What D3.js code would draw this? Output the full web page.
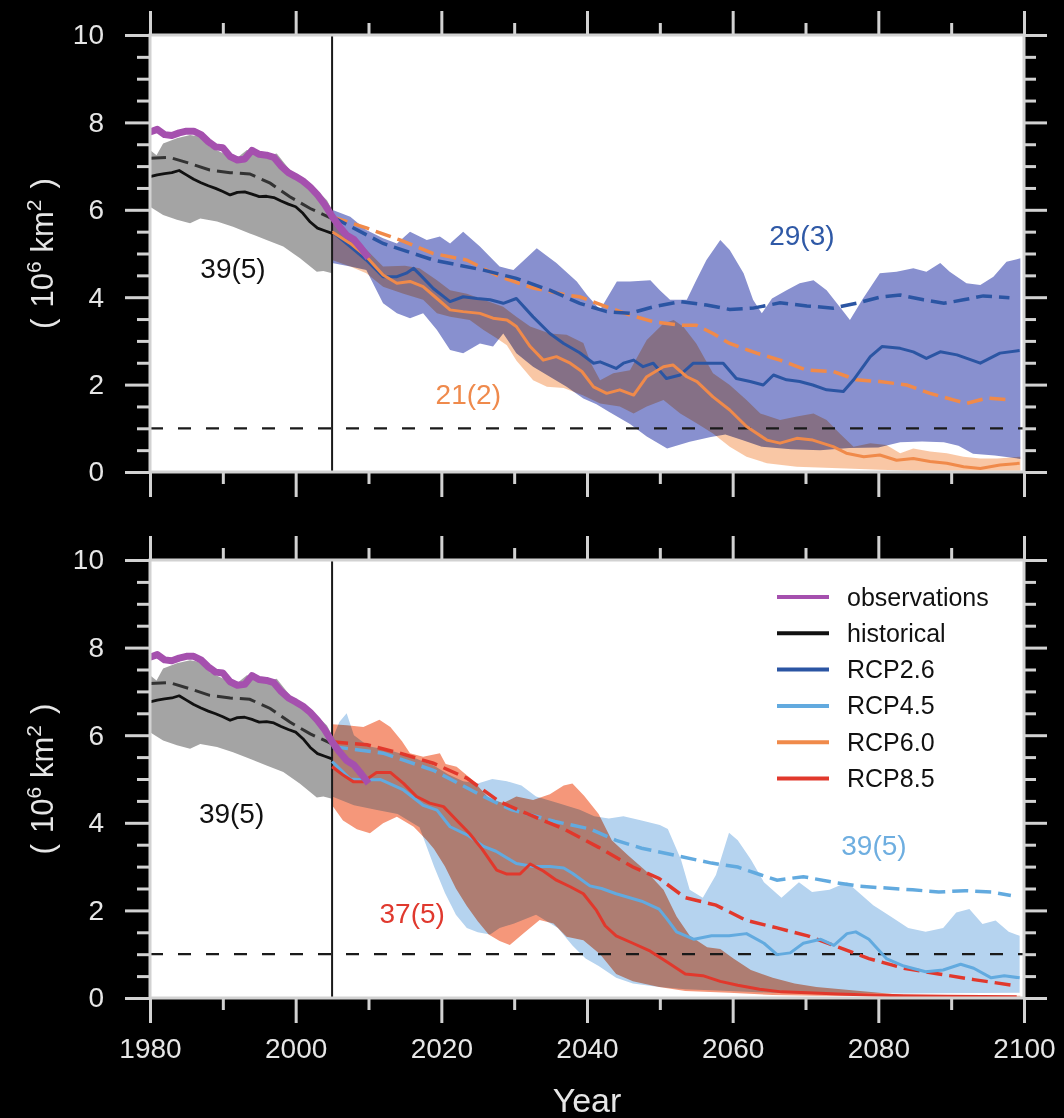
<!DOCTYPE html>
<html>
<head>
<meta charset="utf-8">
<script src="https://cdn.jsdelivr.net/npm/d3@7"></script>
<style>
  html, body { margin: 0; padding: 0; background: #000; }
  svg { display: block; }
</style>
</head>
<body>
<svg id="chart" width="1064" height="1118"></svg>
<script>
// ---- Data: September sea-ice extent (10^6 km^2) ----
const obsSeries = [[1980,7.78],[1981,7.84],[1982,7.72],[1983,7.70],[1984,7.76],[1985,7.80],[1986,7.80],[1987,7.72],[1988,7.56],[1989,7.44],[1990,7.42],[1991,7.22],[1992,7.14],[1993,7.16],[1994,7.36],[1995,7.27],[1996,7.25],[1997,7.20],[1998,7.00],[1999,6.85],[2000,6.76],[2001,6.66],[2002,6.52],[2003,6.34],[2004,6.12],[2005,5.85],[2006,5.62],[2007,5.42],[2008,5.32],[2009,5.12],[2010,4.90]];

const histMean = [[1980,6.76],[1981,6.80],[1982,6.83],[1983,6.85],[1984,6.90],[1985,6.80],[1986,6.70],[1987,6.62],[1988,6.55],[1989,6.49],[1990,6.42],[1991,6.34],[1992,6.40],[1993,6.41],[1994,6.36],[1995,6.30],[1996,6.31],[1997,6.28],[1998,6.20],[1999,6.13],[2000,6.07],[2001,5.92],[2002,5.72],[2003,5.58],[2004,5.52],[2005,5.46]];
const histAll = [[1980,7.18],[1982.7,7.20],[1985.5,7.06],[1988.2,6.91],[1991,6.85],[1993.7,6.82],[1996.5,6.61],[1999.2,6.30],[2002,6.03],[2005,5.80]];
const histUpper = [[1980,7.37],[1980.9,7.25],[1981.8,7.52],[1983.7,7.64],[1985.5,7.71],[1986.9,7.67],[1988.2,7.44],[1990.1,7.29],[1991.9,7.18],[1993.3,7.37],[1994.6,7.33],[1996.5,7.25],[1997.4,7.29],[1999.2,6.91],[2001.1,6.68],[2002.9,6.45],[2004.3,6.22],[2005,6.0]];
const histLower = [[1980,6.07],[1981.8,5.88],[1983.7,5.77],[1985.5,5.69],[1986.9,5.80],[1989.2,5.73],[1991.4,5.61],[1993.7,5.46],[1996,5.31],[1998.3,5.16],[2000.6,4.89],[2002.9,4.58],[2003.8,4.6],[2005,4.55]];

// RCP2.6
const rcp26Mean = [[2005,5.5],[2007.5,5.16],[2009.7,4.85],[2012,4.47],[2013.9,4.47],[2015.2,4.55],[2016.2,4.66],[2017.1,4.51],[2018.9,4.2],[2021.2,3.9],[2023,4.01],[2024.9,3.97],[2026.7,3.94],[2028.5,3.86],[2030.3,3.97],[2032.6,3.55],[2034.9,3.17],[2036.8,2.94],[2039,2.73],[2040.9,2.49],[2041.8,2.52],[2044,2.37],[2045,2.49],[2046.4,2.56],[2047.7,2.41],[2049.1,2.49],[2050.9,2.14],[2052.8,2.22],[2054.6,2.49],[2058.7,2.49],[2060.5,2.14],[2062.4,2.07],[2064.2,1.99],[2065.6,2.22],[2067.4,2.11],[2069.2,2.07],[2071,1.99],[2072.9,1.88],[2075.2,1.84],[2076.6,2.11],[2078.9,2.64],[2080.5,2.87],[2083,2.83],[2084.8,2.75],[2086.6,2.6],[2088.5,2.75],[2090.8,2.68],[2094,2.49],[2096.7,2.72],[2099.4,2.78]];
const rcp26All = [[2005,5.84],[2012,5.23],[2018.9,4.85],[2025.8,4.62],[2030.3,4.43],[2034.9,4.16],[2039,3.86],[2042.7,3.67],[2045.9,3.63],[2049.1,3.78],[2052.8,3.90],[2056.4,3.82],[2059.6,3.72],[2062.8,3.75],[2066.5,3.87],[2070.2,3.80],[2073.8,3.75],[2077,3.86],[2080.2,4.00],[2083,4.05],[2086.2,3.94],[2089,3.86],[2091.7,3.94],[2094.4,4.03],[2098,3.99]];
const rcp26Upper = [[2005,6.0],[2007.5,5.84],[2009.7,5.54],[2012,5.35],[2013.9,5.23],[2015.7,5.5],[2018,5.31],[2019.8,5.39],[2021.2,5.23],[2023,5.5],[2025.3,5.16],[2028,4.7],[2029.9,4.62],[2033.1,5.12],[2035.8,4.78],[2038.6,4.36],[2040,4.05],[2041.8,3.71],[2044.1,4.36],[2045.9,4.36],[2048.7,4.39],[2050,4.16],[2051.4,3.94],[2053.7,3.94],[2055,4.39],[2056.4,4.85],[2058.3,5.31],[2059.6,5.08],[2061.5,4.55],[2062.8,3.94],[2064,3.63],[2065.4,3.97],[2067.4,4.16],[2069.2,4.32],[2071.1,4.39],[2072.9,4.16],[2075.2,3.67],[2076.1,3.48],[2077.9,3.97],[2080.2,4.55],[2082.5,4.58],[2084.8,4.66],[2086.6,4.58],[2088.5,4.78],[2089.8,4.58],[2092.1,4.32],[2094,4.28],[2095.8,4.47],[2097.6,4.81],[2099.5,4.89]];
const rcp26Lower = [[2005,4.78],[2007.5,4.7],[2009.7,4.62],[2012,3.86],[2013.9,3.63],[2015.7,3.52],[2017.5,3.63],[2019.4,3.25],[2021.2,2.79],[2023,2.72],[2025.3,2.94],[2027.1,2.87],[2028.5,3.17],[2030.3,2.72],[2032.6,2.41],[2034.9,2.18],[2037.2,1.95],[2039.5,1.68],[2041.3,1.55],[2043,1.38],[2045.9,1.1],[2048.2,0.81],[2051,0.54],[2054.1,0.69],[2057,0.8],[2059,0.86],[2061.5,0.72],[2064,0.58],[2068,0.52],[2072,0.5],[2076,0.55],[2080,0.56],[2083,0.68],[2086,0.7],[2089,0.68],[2091,0.6],[2093,0.42],[2096,0.38],[2099.5,0.3]];

// RCP6.0
const rcp60Mean = [[2005,5.5],[2007.5,5.23],[2009.7,4.93],[2012,4.51],[2013.9,4.32],[2015.7,4.36],[2017.5,4.24],[2019.4,3.97],[2021.2,3.71],[2023,3.67],[2025.3,3.63],[2027.1,3.52],[2029,3.48],[2030.3,3.33],[2032.2,2.87],[2034,2.56],[2035.8,2.64],[2037.7,2.49],[2039.3,2.3],[2040.9,1.95],[2042.7,1.80],[2044.5,1.88],[2046.4,1.76],[2048.2,2.18],[2050.5,2.41],[2051.8,2.45],[2053.7,2.18],[2055.1,2.07],[2057.3,1.72],[2059.6,1.42],[2061.9,1.04],[2064.7,0.73],[2066.5,0.66],[2068.8,0.77],[2071,0.73],[2073.8,0.58],[2075.6,0.43],[2078,0.35],[2080.2,0.39],[2082.5,0.27],[2084.8,0.31],[2087.1,0.24],[2089.4,0.20],[2091.7,0.12],[2094,0.08],[2096.7,0.16],[2099.4,0.20]];
const rcp60All = [[2005,5.84],[2009.8,5.58],[2014.3,5.31],[2018.9,5.0],[2023.5,4.85],[2028,4.47],[2032.6,4.21],[2037.2,4.05],[2039,4.01],[2042.7,3.78],[2045.9,3.59],[2049.1,3.44],[2052.8,3.36],[2055,3.36],[2057.3,3.17],[2059.6,2.94],[2063.3,2.72],[2066.5,2.56],[2070.2,2.33],[2073.8,2.30],[2077,2.11],[2080.2,2.07],[2083.9,1.99],[2087.1,1.80],[2090.3,1.65],[2092.1,1.57],[2094.9,1.69],[2098,1.65]];
const rcp60Upper = [[2005,5.77],[2006.5,5.46],[2009.3,5.16],[2012,4.7],[2015,4.72],[2017,4.66],[2019.4,4.39],[2021.2,4.16],[2023.5,4.08],[2025.8,3.94],[2028.5,3.78],[2030.3,3.55],[2032.2,3.33],[2034.9,3.17],[2037.2,3.14],[2039.5,2.95],[2040.5,2.5],[2041.8,2.1],[2043.6,2.26],[2045.9,2.33],[2048.2,3.02],[2050.5,3.40],[2051.9,3.48],[2053.2,3.33],[2055,2.94],[2057.3,2.26],[2059.6,1.99],[2061.9,1.65],[2063.8,1.34],[2066.5,1.19],[2068.8,1.27],[2071.1,1.34],[2072.9,1.19],[2074.7,0.88],[2076.6,0.58],[2078.9,0.66],[2081.1,0.62],[2083,0.43],[2084.8,0.54],[2087.1,0.47],[2089.4,0.43],[2091.7,0.35],[2094,0.31],[2096.3,0.31],[2099.5,0.35]];
const rcp60Lower = [[2005,4.85],[2007.5,4.7],[2009.7,4.55],[2012,4.24],[2014.8,4.08],[2017.5,3.94],[2019.4,3.63],[2021.2,3.55],[2023.9,3.48],[2025.8,3.25],[2027.6,3.06],[2029,2.9],[2030.3,2.55],[2032.6,2.1],[2034.5,1.95],[2036.8,1.92],[2039.5,1.75],[2041.8,1.57],[2044.5,1.5],[2046.4,1.34],[2048.2,1.5],[2050.5,1.65],[2052.8,1.34],[2055.1,1.11],[2057.3,0.88],[2059.6,0.58],[2061.9,0.35],[2064.7,0.2],[2068.8,0.12],[2075.6,0.08],[2080.2,0.05],[2085,0.03],[2099.5,0.03]];

// RCP4.5
const rcp45Mean = [[2005,5.4],[2007.5,5.0],[2009.7,4.98],[2011.6,4.99],[2014.8,4.75],[2017.5,4.4],[2019.4,4.29],[2021.2,3.91],[2023.6,3.72],[2025.8,3.46],[2027.5,3.35],[2030.3,3.07],[2032.6,3.0],[2034.9,3.0],[2036.8,2.97],[2038,2.85],[2040.4,2.56],[2042,2.5],[2044,2.38],[2047.5,2.21],[2049.9,2.03],[2051,1.8],[2052.3,1.51],[2054.7,1.34],[2057.1,1.42],[2059.5,1.42],[2061.9,1.47],[2064.3,1.25],[2066.1,0.99],[2067.9,1.03],[2069.7,1.25],[2072.1,1.34],[2073.9,1.20],[2075.7,1.47],[2076.9,1.51],[2078.7,1.34],[2081.1,0.90],[2083.5,0.73],[2086.5,0.60],[2088.9,0.64],[2091.3,0.77],[2093.1,0.68],[2095.5,0.46],[2097.3,0.51],[2099.4,0.46]];
const rcp45All = [[2005,5.74],[2012,5.59],[2018.9,5.2],[2025.8,4.6],[2029.6,4.3],[2035.6,4.03],[2040.4,3.86],[2044,3.60],[2047.5,3.42],[2052.3,3.25],[2057.1,3.08],[2060.7,2.99],[2063.7,2.82],[2066.1,2.69],[2069.7,2.77],[2073.9,2.64],[2077.5,2.55],[2081.1,2.51],[2084.7,2.47],[2088.3,2.42],[2091.9,2.45],[2095.5,2.42],[2098.2,2.34]];
const rcp45Upper = [[2005,5.9],[2006,6.3],[2007,6.5],[2008,6.0],[2010,5.75],[2013,5.65],[2016,5.5],[2019,5.3],[2021,5.1],[2023,4.95],[2025,4.9],[2027,5.0],[2029,4.95],[2031,4.85],[2033,4.6],[2036,4.45],[2039,4.3],[2041,4.15],[2043,4.1],[2045,4.15],[2047.5,4.05],[2050,3.95],[2051.1,3.86],[2052.9,3.16],[2054.1,2.47],[2055.9,2.29],[2057.7,2.81],[2059.5,3.77],[2060.7,3.6],[2062.5,3.16],[2064.3,2.64],[2066.7,2.29],[2069.1,2.64],[2070.9,2.42],[2073.3,2.47],[2075.7,2.64],[2077.5,2.38],[2079.3,2.12],[2081.7,1.86],[2084.1,1.6],[2086.5,1.51],[2088.9,1.6],[2090.7,1.95],[2092.5,2.03],[2094.3,1.69],[2096.1,1.77],[2097.9,1.51],[2099.4,1.42]];
const rcp45Lower = [[2005,4.6],[2008,4.4],[2011,4.3],[2014,4.2],[2017,3.9],[2019,3.0],[2020.5,2.4],[2022,1.9],[2023.5,1.6],[2025,1.5],[2026.7,1.45],[2028,1.6],[2030,1.7],[2033,1.9],[2036,1.6],[2038,1.2],[2039.8,0.9],[2041.6,0.73],[2044,0.46],[2046.3,0.33],[2049.9,0.25],[2053.5,0.2],[2059.5,0.16],[2065.5,0.12],[2071.5,0.12],[2083.5,0.1],[2099.4,0.12]];

// RCP8.5
const rcp85Mean = [[2005,5.28],[2006.5,5.09],[2007.9,4.94],[2009.3,4.94],[2011.1,5.15],[2013,5.15],[2014.8,4.9],[2016.6,4.6],[2018.4,4.45],[2020.3,4.37],[2022.1,4.06],[2023.9,3.75],[2025.6,3.4],[2027.6,2.92],[2029,2.83],[2030.8,2.83],[2032.2,3.06],[2034,2.9],[2035.8,2.69],[2037.7,2.54],[2039.5,2.38],[2041.3,2.0],[2042.5,1.65],[2044,1.42],[2046.3,1.25],[2048.7,1.07],[2051.1,0.81],[2053.5,0.55],[2055.9,0.51],[2058.3,0.38],[2060.7,0.29],[2063.7,0.20],[2066.7,0.14],[2070.3,0.12],[2074.5,0.09],[2078.7,0.07],[2083.5,0.05],[2089.5,0.04],[2099,0.03]];
const rcp85All = [[2005,5.85],[2009.8,5.78],[2014.3,5.59],[2018.9,5.36],[2023.5,5.02],[2028,4.48],[2032.6,4.15],[2036.8,3.86],[2041.6,3.44],[2046.3,2.99],[2049.9,2.73],[2053.5,2.29],[2057.7,2.12],[2061.9,1.77],[2066.1,1.60],[2070.3,1.42],[2074.5,1.16],[2078.7,0.90],[2083.5,0.68],[2088.3,0.55],[2093.1,0.42],[2098.5,0.29]];
const rcp85Upper = [[2005,6.25],[2007,6.23],[2009.3,6.19],[2011.5,6.35],[2013,6.19],[2014.6,5.86],[2015.7,5.59],[2017.5,5.51],[2019.8,5.59],[2020.6,5.34],[2022.1,5.28],[2024.2,4.99],[2026.6,4.55],[2028.5,4.45],[2030.3,4.6],[2032.6,4.52],[2034.9,4.65],[2036.8,4.85],[2038,4.9],[2039.6,4.62],[2041.6,4.2],[2043.4,3.60],[2045.7,3.25],[2048.1,2.90],[2050.5,2.47],[2052.3,1.86],[2054.1,1.42],[2056.5,1.16],[2058.3,1.12],[2060.1,0.90],[2062.5,0.64],[2065.5,0.46],[2068.5,0.33],[2071.5,0.25],[2077.5,0.16],[2083.5,0.07],[2099.5,0.05]];
const rcp85Lower = [[2005,4.4],[2006.5,4.05],[2008.4,3.85],[2010.2,3.76],[2012,3.99],[2013.9,4.14],[2016.2,3.91],[2018,3.6],[2019,3.4],[2020.5,3.0],[2022,2.5],[2023.5,2.1],[2025,1.75],[2026.5,1.45],[2028,1.3],[2029.4,1.21],[2031.3,1.48],[2033.5,1.78],[2035.4,1.70],[2037.2,1.40],[2039.5,1.32],[2041.8,1.0],[2044,0.55],[2046.3,0.38],[2049.9,0.25],[2053.5,0.16],[2059.5,0.12],[2065.5,0.07],[2071.5,0.05],[2099.5,0.03]];

// Axis tick values
const yMajorTicks = [0, 2, 4, 6, 8, 10];
const yMinorTicks = [0.5,1,1.5,2.5,3,3.5,4.5,5,5.5,6.5,7,7.5,8.5,9,9.5];
const xMajorTicks = [1980, 2000, 2020, 2040, 2060, 2080, 2100];
const xMinorTicks = [1990, 2010, 2030, 2050, 2070, 2090];
const thresholdValue = 1;
const baseYear = 2005;

// Model-count annotations: [text, year, value, colour]
const topNotes = [["39(5)", 1991.4, 4.44, "#111111"], ["21(2)", 2023.7, 1.56, "#ef8a4c"], ["29(3)", 2069.5, 5.2, "#2f59a6"]];
const bottomNotes = [["39(5)", 1991.2, 4.0, "#111111"], ["37(5)", 2016, 1.72, "#e0392e"], ["39(5)", 2079.4, 3.26, "#6eaee0"]];

const legendLabels = ["observations", "historical", "RCP2.6", "RCP4.5", "RCP6.0", "RCP8.5"];

// ---- Styles ----
const C = {
  obs: "#a550ae", hist: "#111111", histBand: "#a4a4a4",
  r26: "#2b55a3", r26Band: "#8890cf",
  r45: "#62aadf", r45Band: "#b5d3ef",
  r60: "#f08a4a", r60Band: "#f8bf98",
  r85: "#e1382c", r85Band: "#f5977a"
};
const FONT = "'Liberation Sans', Arial, Helvetica, sans-serif";
const AXIS_COLOR = "#d2d2d2";
const TEXT_COLOR = "#e6e6e6";

const svg = d3.select("#chart");
const x = d3.scaleLinear().domain([1980, 2100]).range([150, 1024]);

function drawPanel(top, bottom, bands, dashed, solid, notes, opts) {
  const y = d3.scaleLinear().domain([0, 10]).range([bottom, top]);
  const g = svg.append("g");
  const line = d3.line().x(d => x(d[0])).y(d => y(d[1]));

  g.append("rect").attr("x", x(1980)).attr("y", top)
    .attr("width", x(2100) - x(1980)).attr("height", bottom - top).attr("fill", "#ffffff");

  // historical spread
  g.append("path").attr("d", line(histUpper.concat(histLower.slice().reverse())) + "Z")
    .attr("fill", C.histBand);

  // scenario spreads (blended so overlaps darken)
  bands.forEach(b => {
    g.append("path").attr("d", line(b.upper.concat(b.lower.slice().reverse())) + "Z")
      .attr("fill", b.color).attr("fill-opacity", b.opacity)
      .style("mix-blend-mode", "multiply");
  });

  // reference lines
  g.append("line").attr("x1", x(1980)).attr("x2", x(2100))
    .attr("y1", y(thresholdValue)).attr("y2", y(thresholdValue))
    .attr("stroke", "#1a1a1a").attr("stroke-width", 2.2).attr("stroke-dasharray", "13,15");
  g.append("line").attr("x1", x(baseYear)).attr("x2", x(baseYear))
    .attr("y1", top).attr("y2", bottom)
    .attr("stroke", "#1a1a1a").attr("stroke-width", 2);

  // all-model means (dashed)
  dashed.forEach(s => {
    g.append("path").attr("d", line(s.data)).attr("fill", "none")
      .attr("stroke", s.color).attr("stroke-width", 3.5).attr("stroke-dasharray", "16,7");
  });
  g.append("path").attr("d", line(histAll)).attr("fill", "none")
    .attr("stroke", "#333333").attr("stroke-width", 3).attr("stroke-dasharray", "16,7");

  // selected-model means (solid)
  solid.forEach(s => {
    g.append("path").attr("d", line(s.data)).attr("fill", "none")
      .attr("stroke", s.color).attr("stroke-width", 3).attr("stroke-linejoin", "round");
  });
  g.append("path").attr("d", line(histMean)).attr("fill", "none")
    .attr("stroke", C.hist).attr("stroke-width", 2.8).attr("stroke-linejoin", "round");

  // observations
  g.append("path").attr("d", line(obsSeries)).attr("fill", "none")
    .attr("stroke", C.obs).attr("stroke-width", 7).attr("stroke-linejoin", "round");

  // frame
  g.append("rect").attr("x", x(1980)).attr("y", top)
    .attr("width", x(2100) - x(1980)).attr("height", bottom - top)
    .attr("fill", "none").attr("stroke", AXIS_COLOR).attr("stroke-width", 3);

  // axes
  const styleAxis = sel => {
    sel.select(".domain").remove();
    sel.selectAll(".tick line").attr("stroke", AXIS_COLOR).attr("stroke-width", 3);
    sel.selectAll(".tick text").attr("fill", TEXT_COLOR)
      .style("font-family", FONT).style("font-size", "28px");
  };
  const addAxis = (axis, tx, ty) => g.append("g")
    .attr("transform", `translate(${tx},${ty})`).call(axis).call(styleAxis);

  addAxis(d3.axisLeft(y).tickValues(yMajorTicks).tickSize(25).tickPadding(21).tickFormat(d3.format("d")), x(1980), 0);
  addAxis(d3.axisLeft(y).tickValues(yMinorTicks).tickSize(13).tickFormat(""), x(1980), 0);
  addAxis(d3.axisRight(y).tickValues(yMajorTicks).tickSize(23).tickFormat(""), x(2100), 0);
  addAxis(d3.axisRight(y).tickValues(yMinorTicks).tickSize(12).tickFormat(""), x(2100), 0);
  addAxis(d3.axisTop(x).tickValues(xMajorTicks).tickSize(24).tickFormat(""), 0, top);
  addAxis(d3.axisTop(x).tickValues(xMinorTicks).tickSize(12).tickFormat(""), 0, top);
  addAxis(d3.axisBottom(x).tickValues(xMajorTicks).tickSize(25).tickPadding(15)
    .tickFormat(opts.xLabels ? d3.format("d") : ""), 0, bottom);
  addAxis(d3.axisBottom(x).tickValues(xMinorTicks).tickSize(12).tickFormat(""), 0, bottom);

  // y-axis title
  const yt = g.append("text")
    .attr("transform", `translate(53,${(top + bottom) / 2}) rotate(-90)`)
    .attr("text-anchor", "middle").attr("fill", TEXT_COLOR)
    .style("font-family", FONT).style("font-size", "31px");
  yt.append("tspan").text("(\u200a 10");
  yt.append("tspan").attr("dy", -12).style("font-size", "21px").text("6");
  yt.append("tspan").attr("dy", 12).text(" km");
  yt.append("tspan").attr("dy", -12).style("font-size", "21px").text("2");
  yt.append("tspan").attr("dy", 12).text(" \u200a)");

  // model counts
  notes.forEach(n => {
    g.append("text").attr("x", x(n[1])).attr("y", y(n[2]))
      .attr("text-anchor", "middle").attr("fill", n[3])
      .style("font-family", FONT).style("font-size", "28px").text(n[0]);
  });

  return { g, y };
}

// Top panel: RCP2.6 and RCP6.0
drawPanel(35, 472,
  [{ upper: rcp26Upper, lower: rcp26Lower, color: C.r26Band, opacity: 1 },
   { upper: rcp60Upper, lower: rcp60Lower, color: C.r60Band, opacity: 0.88 }],
  [{ data: rcp60All, color: C.r60 }, { data: rcp26All, color: C.r26 }],
  [{ data: rcp26Mean, color: C.r26 }, { data: rcp60Mean, color: C.r60 }],
  topNotes, { xLabels: false });

// Bottom panel: RCP4.5 and RCP8.5
const bottomPanel = drawPanel(560, 998,
  [{ upper: rcp45Upper, lower: rcp45Lower, color: C.r45Band, opacity: 1 },
   { upper: rcp85Upper, lower: rcp85Lower, color: C.r85Band, opacity: 1 }],
  [{ data: rcp45All, color: C.r45 }, { data: rcp85All, color: C.r85 }],
  [{ data: rcp45Mean, color: C.r45 }, { data: rcp85Mean, color: C.r85 }],
  bottomNotes, { xLabels: true });

// x-axis title
svg.append("text").attr("x", 587).attr("y", 1112).attr("text-anchor", "middle")
  .attr("fill", TEXT_COLOR).style("font-family", FONT).style("font-size", "34px").text("Year");

// Legend
const legendColors = [C.obs, C.hist, C.r26, C.r45, C.r60, C.r85];
const legend = bottomPanel.g.append("g").attr("transform", "translate(777,597)");
legendLabels.forEach((lab, i) => {
  const row = legend.append("g").attr("transform", `translate(0,${i * 36.3})`);
  row.append("line").attr("x1", 0).attr("x2", 52).attr("y1", 0).attr("y2", 0)
    .attr("stroke", legendColors[i]).attr("stroke-width", 4);
  row.append("text").attr("x", 70).attr("y", 8.5).attr("fill", "#111")
    .style("font-family", FONT).style("font-size", "25px").text(lab);
});
</script>
</body>
</html>
